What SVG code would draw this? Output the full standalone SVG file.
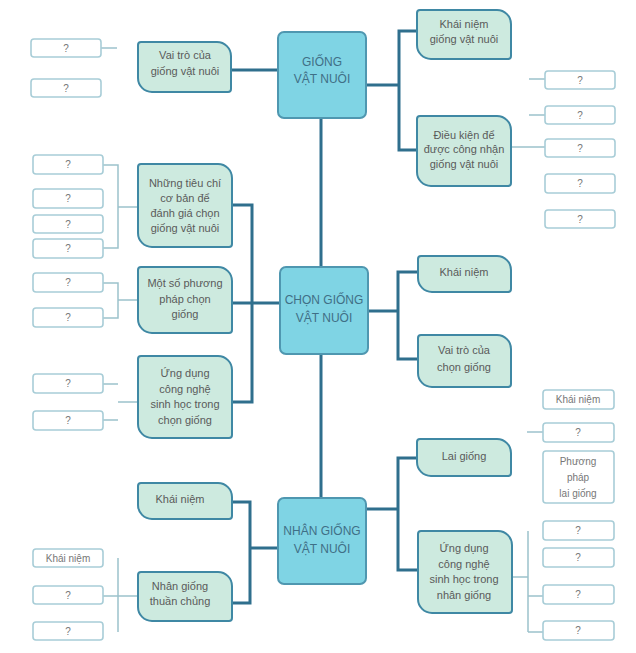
<svg xmlns="http://www.w3.org/2000/svg" width="636" height="653" viewBox="0 0 636 653">
<style>
.main{fill:#7fd4e4;stroke:#4f97b0;stroke-width:2}
.sub{fill:#cdeadf;stroke:#3f88a4;stroke-width:2}
.leaf{fill:#fff;stroke:#a8cdd7;stroke-width:1.6}
.con{fill:none;stroke:#2f6f8d;stroke-width:3}
.thin{fill:none;stroke:#9cc2cc;stroke-width:1.5}
.tm{font-family:"Liberation Sans",Arial,sans-serif;font-size:12px;fill:#3f6f86;text-anchor:middle}
.ts{font-family:"Liberation Sans",Arial,sans-serif;font-size:11px;fill:#5a5a5a;text-anchor:middle}
.tl{font-family:"Liberation Sans",Arial,sans-serif;font-size:10px;fill:#777;text-anchor:middle}
</style>
<rect width="636" height="653" fill="#fff"/>
<g id="connectors">
<path class="con" d="M321,117V267M321,354V498"/>
<path class="con" d="M231,70H278"/>
<path class="con" d="M366,85H399M417,31H399V150H417"/>
<path class="con" d="M232,303H280M232,205H252V402H232"/>
<path class="con" d="M368,311H398M418,272H398V359H418"/>
<path class="con" d="M366,509H398M417,458H398V570H418"/>
<path class="con" d="M278,548H250M232,502H250V603H232"/>
<path class="thin" d="M101,48H117"/>
<path class="thin" d="M529,79H545M529,115H545M511,147H545"/>
<path class="thin" d="M103,165H118V248H103M118,207H138"/>
<path class="thin" d="M103,283H118V318H103M118,300H138"/>
<path class="thin" d="M103,384H118M118,402H138M103,420H118"/>
<path class="thin" d="M527,432H543"/>
<path class="thin" d="M528,531V632M512,577H528M528,596H543M528,632H543"/>
<path class="thin" d="M118,558V632M103,596H138"/>
</g>
<g id="n-giong">
<rect class="main" x="278" y="32" width="88" height="86" rx="6"/>
<text class="tm" x="322" y="66">GIỐNG</text><text class="tm" x="322" y="83">VẬT NUÔI</text>
</g>
<g id="n-chon">
<rect class="main" x="280" y="267" width="88" height="87" rx="6"/>
<text class="tm" x="324" y="304">CHỌN GIỐNG</text><text class="tm" x="324" y="322">VẬT NUÔI</text>
</g>
<g id="n-nhan">
<rect class="main" x="278" y="498" width="88" height="86" rx="6"/>
<text class="tm" x="322" y="535">NHÂN GIỐNG</text><text class="tm" x="322" y="553">VẬT NUÔI</text>
</g>
<g id="s-vaitro-giong">
<path class="sub" d="M141,42H217A14,14 0 0 1 231,56V89A3,3 0 0 1 228,92H152A14,14 0 0 1 138,78V45A3,3 0 0 1 141,42Z"/>
<text class="ts" x="185" y="59">Vai trò của</text><text class="ts" x="185" y="75">giống vật nuôi</text>
</g>
<g id="s-khainiem-giong">
<path class="sub" d="M420,10H497A14,14 0 0 1 511,24V56A3,3 0 0 1 508,59H431A14,14 0 0 1 417,45V13A3,3 0 0 1 420,10Z"/>
<text class="ts" x="464" y="28">Khái niệm</text><text class="ts" x="464" y="43">giống vật nuôi</text>
</g>
<g id="s-dieukien">
<path class="sub" d="M420,116H497A14,14 0 0 1 511,130V183A3,3 0 0 1 508,186H431A14,14 0 0 1 417,172V119A3,3 0 0 1 420,116Z"/>
<text class="ts" x="464" y="139">Điều kiện để</text><text class="ts" x="464" y="153">được công nhận</text><text class="ts" x="464" y="168">giống vật nuôi</text>
</g>
<g id="s-tieuchi">
<path class="sub" d="M141,164H218A14,14 0 0 1 232,178V244A3,3 0 0 1 229,247H152A14,14 0 0 1 138,233V167A3,3 0 0 1 141,164Z"/>
<text class="ts" x="185" y="187">Những tiêu chí</text><text class="ts" x="185" y="202">cơ bản để</text><text class="ts" x="185" y="217">đánh giá chọn</text><text class="ts" x="185" y="232">giống vật nuôi</text>
</g>
<g id="s-phuongphap">
<path class="sub" d="M141,267H218A14,14 0 0 1 232,281V330A3,3 0 0 1 229,333H152A14,14 0 0 1 138,319V270A3,3 0 0 1 141,267Z"/>
<text class="ts" x="185" y="287">Một số phương</text><text class="ts" x="185" y="303">pháp chọn</text><text class="ts" x="185" y="318">giống</text>
</g>
<g id="s-ungdung-chon">
<path class="sub" d="M141,356H218A14,14 0 0 1 232,370V435A3,3 0 0 1 229,438H152A14,14 0 0 1 138,424V359A3,3 0 0 1 141,356Z"/>
<text class="ts" x="185" y="377">Ứng dụng</text><text class="ts" x="185" y="393">công nghệ</text><text class="ts" x="185" y="408">sinh học trong</text><text class="ts" x="185" y="424">chọn giống</text>
</g>
<g id="s-khainiem-chon">
<path class="sub" d="M421,256H497A14,14 0 0 1 511,270V289A3,3 0 0 1 508,292H432A14,14 0 0 1 418,278V259A3,3 0 0 1 421,256Z"/>
<text class="ts" x="464" y="276">Khái niệm</text>
</g>
<g id="s-vaitro-chon">
<path class="sub" d="M421,335H497A14,14 0 0 1 511,349V384A3,3 0 0 1 508,387H432A14,14 0 0 1 418,373V338A3,3 0 0 1 421,335Z"/>
<text class="ts" x="464" y="354">Vai trò của</text><text class="ts" x="464" y="371">chọn giống</text>
</g>
<g id="s-laigiong">
<path class="sub" d="M420,439H497A14,14 0 0 1 511,453V473A3,3 0 0 1 508,476H431A14,14 0 0 1 417,462V442A3,3 0 0 1 420,439Z"/>
<text class="ts" x="464" y="460">Lai giống</text>
</g>
<g id="s-ungdung-nhan">
<path class="sub" d="M421,531H498A14,14 0 0 1 512,545V610A3,3 0 0 1 509,613H432A14,14 0 0 1 418,599V534A3,3 0 0 1 421,531Z"/>
<text class="ts" x="464" y="552">Ứng dụng</text><text class="ts" x="464" y="568">công nghệ</text><text class="ts" x="464" y="583">sinh học trong</text><text class="ts" x="464" y="599">nhân giống</text>
</g>
<g id="s-khainiem-nhan">
<path class="sub" d="M141,483H218A14,14 0 0 1 232,497V516A3,3 0 0 1 229,519H152A14,14 0 0 1 138,505V486A3,3 0 0 1 141,483Z"/>
<text class="ts" x="180" y="503">Khái niệm</text>
</g>
<g id="s-thuanchung">
<path class="sub" d="M141,572H218A14,14 0 0 1 232,586V618A3,3 0 0 1 229,621H152A14,14 0 0 1 138,607V575A3,3 0 0 1 141,572Z"/>
<text class="ts" x="180" y="590">Nhân giống</text><text class="ts" x="180" y="605">thuần chủng</text>
</g>
<g id="leaves">
<g id="l1"><rect class="leaf" x="31" y="39" width="70" height="18" rx="3"/><text class="tl" x="66" y="52">?</text></g>
<g id="l2"><rect class="leaf" x="31" y="79" width="70" height="18" rx="3"/><text class="tl" x="66" y="92">?</text></g>
<g id="l3"><rect class="leaf" x="545" y="71" width="70" height="18" rx="3"/><text class="tl" x="580" y="84">?</text></g>
<g id="l4"><rect class="leaf" x="545" y="106" width="70" height="18" rx="3"/><text class="tl" x="580" y="119">?</text></g>
<g id="l5"><rect class="leaf" x="545" y="139" width="70" height="18" rx="3"/><text class="tl" x="580" y="152">?</text></g>
<g id="l6"><rect class="leaf" x="545" y="174" width="70" height="19" rx="3"/><text class="tl" x="580" y="187">?</text></g>
<g id="l7"><rect class="leaf" x="545" y="210" width="70" height="18" rx="3"/><text class="tl" x="580" y="223">?</text></g>
<g id="l8"><rect class="leaf" x="33" y="155" width="70" height="19" rx="3"/><text class="tl" x="68" y="168">?</text></g>
<g id="l9"><rect class="leaf" x="33" y="189" width="70" height="19" rx="3"/><text class="tl" x="68" y="202">?</text></g>
<g id="l10"><rect class="leaf" x="33" y="215" width="70" height="18" rx="3"/><text class="tl" x="68" y="228">?</text></g>
<g id="l11"><rect class="leaf" x="33" y="239" width="70" height="19" rx="3"/><text class="tl" x="68" y="252">?</text></g>
<g id="l12"><rect class="leaf" x="33" y="273" width="70" height="19" rx="3"/><text class="tl" x="68" y="286">?</text></g>
<g id="l13"><rect class="leaf" x="33" y="308" width="70" height="19" rx="3"/><text class="tl" x="68" y="321">?</text></g>
<g id="l14"><rect class="leaf" x="33" y="374" width="70" height="19" rx="3"/><text class="tl" x="68" y="387">?</text></g>
<g id="l15"><rect class="leaf" x="33" y="411" width="70" height="19" rx="3"/><text class="tl" x="68" y="424">?</text></g>
<g id="l16"><rect class="leaf" x="543" y="390" width="71" height="19" rx="3"/><text class="tl" x="578" y="403">Khái niệm</text></g>
<g id="l17"><rect class="leaf" x="543" y="423" width="71" height="19" rx="3"/><text class="tl" x="578" y="436">?</text></g>
<g id="l18"><rect class="leaf" x="543" y="451" width="71" height="52" rx="3"/><text class="tl" x="578" y="465">Phương</text><text class="tl" x="578" y="481">pháp</text><text class="tl" x="578" y="497">lai giống</text></g>
<g id="l19"><rect class="leaf" x="543" y="521" width="71" height="19" rx="3"/><text class="tl" x="578" y="534">?</text></g>
<g id="l20"><rect class="leaf" x="543" y="548" width="71" height="19" rx="3"/><text class="tl" x="578" y="561">?</text></g>
<g id="l21"><rect class="leaf" x="543" y="585" width="71" height="19" rx="3"/><text class="tl" x="578" y="598">?</text></g>
<g id="l22"><rect class="leaf" x="543" y="621" width="71" height="19" rx="3"/><text class="tl" x="578" y="634">?</text></g>
<g id="l23"><rect class="leaf" x="33" y="549" width="70" height="18" rx="3"/><text class="tl" x="68" y="562">Khái niệm</text></g>
<g id="l24"><rect class="leaf" x="33" y="586" width="70" height="18" rx="3"/><text class="tl" x="68" y="599">?</text></g>
<g id="l25"><rect class="leaf" x="33" y="622" width="70" height="18" rx="3"/><text class="tl" x="68" y="635">?</text></g>
</g>
</svg>
